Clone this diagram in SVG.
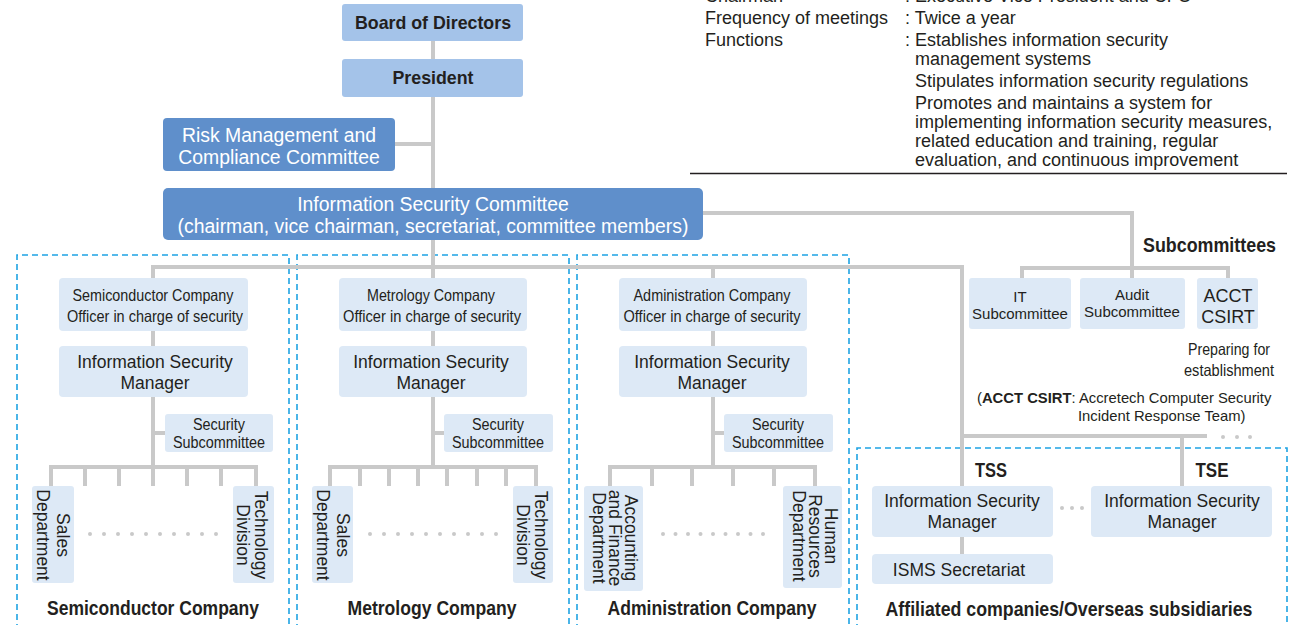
<svg xmlns="http://www.w3.org/2000/svg" width="1294" height="625" viewBox="0 0 1294 625">
<style>
text{font-family:"Liberation Sans",Arial,sans-serif;fill:#231f20}
.ln{stroke:#c9c9c9;stroke-width:4;fill:none}
.dash{stroke:#1ea3e3;stroke-width:1.6;fill:none;stroke-dasharray:6 4}
.top{fill:#a4c3e9}
.mid{fill:#5f8fcb}
.lt{fill:#dde9f6}
.wt{fill:#ffffff;font-size:19.4px;text-anchor:middle}
.b{font-weight:bold;text-anchor:middle}
.c{text-anchor:middle}
.r18{font-size:17.5px}
.dot{fill:#c9c9c9}
.info{font-size:18px}
.cn{font-size:16.5px;text-anchor:middle}
.sc{font-size:16px;text-anchor:middle}
</style>

<!-- right info block -->
<g id="info">
<text class="info" x="705" y="2">Chairman</text>
<text class="info" x="905" y="2">: Executive Vice President and CFO</text>
<text class="info" x="705" y="24">Frequency of meetings</text>
<text class="info" x="905" y="24">: Twice a year</text>
<text class="info" x="705" y="46">Functions</text>
<text class="info" x="905" y="46">: Establishes information security</text>
<text class="info" x="915" y="65">management systems</text>
<text class="info" x="915" y="87">Stipulates information security regulations</text>
<text class="info" x="915" y="109">Promotes and maintains a system for</text>
<text class="info" x="915" y="128">implementing information security measures,</text>
<text class="info" x="915" y="147">related education and training, regular</text>
<text class="info" x="915" y="166">evaluation, and continuous improvement</text>
<line x1="690" y1="173.5" x2="1287" y2="173.5" stroke="#231f20" stroke-width="1.5"/>
</g>

<!-- dashed groupings -->
<g id="groups">
<path class="dash" d="M17,640 V255 H289 V640"/>
<path class="dash" d="M297,640 V255 H569 V640"/>
<path class="dash" d="M577,640 V255 H849 V640"/>
<path class="dash" d="M857,640 V448 H1287 V640"/>
</g>

<!-- connectors -->
<g id="connectors">
<path class="ln" d="M433,41 V467"/>
<path class="ln" d="M395,144 H433"/>
<path class="ln" d="M700,213 H1132 V278"/>
<path class="ln" d="M1022,278 V268 H1228 V278"/>
<path class="ln" d="M153,278 V267 H962 V486"/>
<path class="ln" d="M962,436 H1207"/>
<path class="ln" d="M1182,436 V486"/>
<path class="ln" d="M962,537 V554"/>
<path class="ln" d="M713,267 V467"/>
<path class="ln" d="M153,267 V467"/>
<path class="ln" d="M153,433 H165 M433,433 H444 M713,433 H724"/>
<path class="ln" d="M51,486 V467 H256 V486 M85,467 V486 M119,467 V486 M153,467 V486 M187,467 V486 M221,467 V486"/>
<path class="ln" d="M330,486 V467 H536 V486 M360,467 V486 M389,467 V486 M418,467 V486 M447,467 V486 M477,467 V486 M506,467 V486"/>
<path class="ln" d="M610,486 V467 H815 V486 M652,467 V486 M692,467 V486 M733,467 V486 M774,467 V486"/>
</g>

<!-- dots -->
<g id="ellipses" class="dot">
<circle cx="90" cy="534" r="2"/><circle cx="104" cy="534" r="2"/><circle cx="118" cy="534" r="2"/><circle cx="132" cy="534" r="2"/><circle cx="146" cy="534" r="2"/><circle cx="160" cy="534" r="2"/><circle cx="174" cy="534" r="2"/><circle cx="188" cy="534" r="2"/><circle cx="202" cy="534" r="2"/><circle cx="216" cy="534" r="2"/>
<circle cx="370" cy="534" r="2"/><circle cx="384" cy="534" r="2"/><circle cx="398" cy="534" r="2"/><circle cx="412" cy="534" r="2"/><circle cx="426" cy="534" r="2"/><circle cx="440" cy="534" r="2"/><circle cx="454" cy="534" r="2"/><circle cx="468" cy="534" r="2"/><circle cx="482" cy="534" r="2"/><circle cx="496" cy="534" r="2"/>
<circle cx="663" cy="534" r="2"/><circle cx="675.5" cy="534" r="2"/><circle cx="688" cy="534" r="2"/><circle cx="700.5" cy="534" r="2"/><circle cx="713" cy="534" r="2"/><circle cx="725.5" cy="534" r="2"/><circle cx="738" cy="534" r="2"/><circle cx="750.5" cy="534" r="2"/><circle cx="763" cy="534" r="2"/>
<circle cx="1062" cy="508" r="2"/><circle cx="1072" cy="508" r="2"/><circle cx="1082" cy="508" r="2"/>
<circle cx="1223" cy="437" r="2"/><circle cx="1237" cy="437" r="2"/><circle cx="1250" cy="437" r="2"/>
</g>

<!-- top nodes -->
<g id="board"><rect class="top" x="342" y="4" width="181" height="37" rx="3"/><text class="b" x="433" y="29" font-size="17.8">Board of Directors</text></g>
<g id="president"><rect class="top" x="342" y="59" width="181" height="38" rx="3"/><text class="b" x="433" y="84" font-size="17.8">President</text></g>
<g id="risk"><rect class="mid" x="163" y="118" width="232" height="53" rx="4"/><text class="wt" x="279" y="142">Risk Management and</text><text class="wt" x="279" y="164">Compliance Committee</text></g>
<g id="isc"><rect class="mid" x="163" y="188" width="540" height="52" rx="5"/><text class="wt" x="433" y="211">Information Security Committee</text><text class="wt" x="433" y="233">(chairman, vice chairman, secretariat, committee members)</text></g>

<!-- subcommittees -->
<text class="b" x="1276" y="252" font-size="21" style="text-anchor:end" textLength="133" lengthAdjust="spacingAndGlyphs">Subcommittees</text>
<g id="it-sub"><rect class="lt" x="969" y="278" width="102" height="51" rx="3"/><text class="c" x="1020" y="302" font-size="15">IT</text><text class="c" x="1020" y="319" font-size="15">Subcommittee</text></g>
<g id="audit-sub"><rect class="lt" x="1080" y="278" width="105" height="51" rx="3"/><text class="c" x="1132" y="300" font-size="15">Audit</text><text class="c" x="1132" y="317" font-size="15">Subcommittee</text></g>
<g id="csirt"><rect class="lt" x="1197" y="278" width="61" height="51" rx="3"/><text class="c" x="1228" y="302" font-size="18">ACCT</text><text class="c" x="1228" y="323" font-size="18">CSIRT</text></g>
<text x="1270" y="355" font-size="16.5" style="text-anchor:end" textLength="82" lengthAdjust="spacingAndGlyphs">Preparing for</text>
<text x="1274" y="376" font-size="16.5" style="text-anchor:end" textLength="90" lengthAdjust="spacingAndGlyphs">establishment</text>
<text x="977" y="403" font-size="14.8">(<tspan font-weight="bold">ACCT CSIRT</tspan>: Accretech Computer Security</text>
<text x="1078" y="421" font-size="14.8">Incident Response Team)</text>

<!-- Semiconductor -->
<g id="semi-officer"><rect class="lt" x="59" y="278" width="189" height="53" rx="4"/><text class="cn" x="153" y="301" textLength="161" lengthAdjust="spacingAndGlyphs">Semiconductor Company</text><text class="cn" x="155" y="322" textLength="176" lengthAdjust="spacingAndGlyphs">Officer in charge of security</text></g>
<g id="semi-ism"><rect class="lt" x="59" y="346" width="189" height="51" rx="4"/><text class="c r18" x="155" y="368">Information Security</text><text class="c r18" x="155" y="389">Manager</text></g>
<g id="semi-sec"><rect class="lt" x="165" y="414" width="108" height="38" rx="3"/><text class="sc" x="219" y="430" textLength="52" lengthAdjust="spacingAndGlyphs">Security</text><text class="sc" x="219" y="448" textLength="92" lengthAdjust="spacingAndGlyphs">Subcommittee</text></g>
<g id="semi-sales"><rect class="lt" x="32" y="486" width="42" height="97" rx="3"/><g transform="translate(53,535) rotate(90)"><text class="c r18" x="0" y="-4">Sales</text><text class="c r18" x="0" y="16">Department</text></g></g>
<g id="semi-tech"><rect class="lt" x="233" y="486" width="41" height="97" rx="3"/><g transform="translate(253.5,535) rotate(90)"><text class="c r18" x="0" y="-1.5">Technology</text><text class="c r18" x="0" y="16.5">Division</text></g></g>
<text class="b" x="153" y="615" font-size="21" textLength="212" lengthAdjust="spacingAndGlyphs">Semiconductor Company</text>

<!-- Metrology -->
<g id="met-officer"><rect class="lt" x="339" y="278" width="188" height="53" rx="4"/><text class="cn" x="431" y="301" textLength="128" lengthAdjust="spacingAndGlyphs">Metrology Company</text><text class="cn" x="432" y="322" textLength="178" lengthAdjust="spacingAndGlyphs">Officer in charge of security</text></g>
<g id="met-ism"><rect class="lt" x="339" y="346" width="188" height="51" rx="4"/><text class="c r18" x="431" y="368">Information Security</text><text class="c r18" x="431" y="389">Manager</text></g>
<g id="met-sec"><rect class="lt" x="444" y="414" width="109" height="38" rx="3"/><text class="sc" x="498" y="430" textLength="52" lengthAdjust="spacingAndGlyphs">Security</text><text class="sc" x="498" y="448" textLength="92" lengthAdjust="spacingAndGlyphs">Subcommittee</text></g>
<g id="met-sales"><rect class="lt" x="312" y="486" width="41" height="97" rx="3"/><g transform="translate(332.5,535) rotate(90)"><text class="c r18" x="0" y="-4">Sales</text><text class="c r18" x="0" y="16">Department</text></g></g>
<g id="met-tech"><rect class="lt" x="513" y="486" width="40" height="97" rx="3"/><g transform="translate(533,535) rotate(90)"><text class="c r18" x="0" y="-1.5">Technology</text><text class="c r18" x="0" y="16.5">Division</text></g></g>
<text class="b" x="432" y="615" font-size="21" textLength="169" lengthAdjust="spacingAndGlyphs">Metrology Company</text>

<!-- Administration -->
<g id="adm-officer"><rect class="lt" x="619" y="278" width="188" height="53" rx="4"/><text class="cn" x="712" y="301" textLength="157" lengthAdjust="spacingAndGlyphs">Administration Company</text><text class="cn" x="712" y="322" textLength="177" lengthAdjust="spacingAndGlyphs">Officer in charge of security</text></g>
<g id="adm-ism"><rect class="lt" x="619" y="346" width="188" height="51" rx="4"/><text class="c r18" x="712" y="368">Information Security</text><text class="c r18" x="712" y="389">Manager</text></g>
<g id="adm-sec"><rect class="lt" x="724" y="414" width="109" height="38" rx="3"/><text class="sc" x="778" y="430" textLength="52" lengthAdjust="spacingAndGlyphs">Security</text><text class="sc" x="778" y="448" textLength="92" lengthAdjust="spacingAndGlyphs">Subcommittee</text></g>
<g id="adm-acc"><rect class="lt" x="584" y="486" width="59" height="105" rx="3"/><g transform="translate(613.5,538) rotate(90)"><text class="c r18" x="0" y="-11.5">Accounting</text><text class="c r18" x="0" y="4.5">and Finance</text><text class="c r18" x="0" y="20.5">Department</text></g></g>
<g id="adm-hr"><rect class="lt" x="783" y="486" width="59" height="102" rx="3"/><g transform="translate(812.5,536) rotate(90)"><text class="c r18" x="0" y="-12.5">Human</text><text class="c r18" x="0" y="3.5">Resources</text><text class="c r18" x="0" y="20">Department</text></g></g>
<text class="b" x="712" y="615" font-size="21" textLength="209" lengthAdjust="spacingAndGlyphs">Administration Company</text>

<!-- Affiliated -->
<text class="b" x="991" y="477" font-size="21" textLength="32" lengthAdjust="spacingAndGlyphs">TSS</text>
<text class="b" x="1212" y="477" font-size="21" textLength="33" lengthAdjust="spacingAndGlyphs">TSE</text>
<g id="tss-ism"><rect class="lt" x="872" y="486" width="181" height="51" rx="4"/><text class="c r18" x="962" y="507">Information Security</text><text class="c r18" x="962" y="528">Manager</text></g>
<g id="tse-ism"><rect class="lt" x="1091" y="486" width="181" height="51" rx="4"/><text class="c r18" x="1182" y="507">Information Security</text><text class="c r18" x="1182" y="528">Manager</text></g>
<g id="isms"><rect class="lt" x="872" y="554" width="181" height="30" rx="4"/><text class="c r18" x="959" y="576">ISMS Secretariat</text></g>
<text class="b" x="1069" y="616" font-size="21" textLength="367" lengthAdjust="spacingAndGlyphs">Affiliated companies/Overseas subsidiaries</text>
</svg>
